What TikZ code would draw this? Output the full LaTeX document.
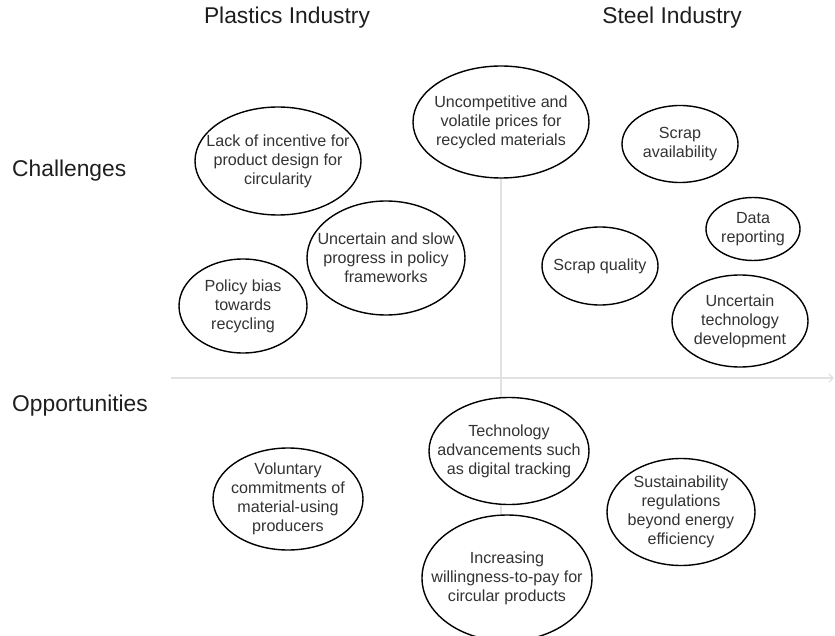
\documentclass[tikz,border=0pt]{standalone}
\usepackage{fontspec}
\setmainfont{Liberation Sans}
\usepackage{xcolor}
\usepackage{tikz}
\usetikzlibrary{arrows.meta, positioning, shapes.geometric, backgrounds}
\definecolor{inktext}{RGB}{51,51,51}
\definecolor{heading}{RGB}{30,30,30}
\definecolor{gridgray}{RGB}{225,225,225}
\definecolor{border}{RGB}{0,0,0}
\tikzset{
    idea/.style={
        ellipse,
        draw=border,
        line width=1.4pt,
        fill=white,
        inner sep=0pt
    },
    ideatext/.style={
        text=inktext,
        align=center,
        inner sep=0pt,
        font=\fontsize{16.1}{19}\selectfont
    },
    axisline/.style={draw=gridgray, line width=1.2pt},
    axisarrow/.style={axisline, -{Straight Barb[length=1.6mm, width=3mm]}}
}

\begin{document}
\begin{tikzpicture}[
    x=1pt, y=-1pt,
    colhead/.style={
        text=heading,
        inner sep=0pt,
        font=\fontsize{22.8}{26}\selectfont
    },
    rowhead/.style={colhead, anchor=west}
]
\useasboundingbox (0,0) rectangle (835,636);

\node[colhead] (plastics) at (287,18) {Plastics Industry};
\node[colhead] (steel) at (672,18) {Steel Industry};
\node[rowhead] (challenges) at (12,171) {Challenges};
\node[rowhead] (opportunities) at (12,406) {Opportunities};

\node[idea, minimum width=166pt, minimum height=108pt,
    label={[ideatext]center:Lack of incentive for\\product design for\\circularity}] (lackincentive) at (278,161) {};
\node[idea, minimum width=176pt, minimum height=112pt,
    label={[ideatext]center:Uncompetitive and\\volatile prices for\\recycled materials}] (prices) at (501,122) {};
\node[idea, minimum width=116pt, minimum height=77pt,
    label={[ideatext]center:Scrap\\availability}] (scrapavail) at (680,144) {};
\node[idea, minimum width=94pt, minimum height=63pt,
    label={[ideatext]center:Data\\reporting}] (datarep) at (753,229) {};
\node[idea, minimum width=116pt, minimum height=78pt,
    label={[ideatext]center:Scrap quality}] (scrapqual) at (600,266) {};
\node[idea, minimum width=158pt, minimum height=114pt,
    label={[ideatext]center:Uncertain and slow\\progress in policy\\frameworks}] (policyprog) at (386,258) {};
\node[idea, minimum width=128pt, minimum height=94pt,
    label={[ideatext]center:Policy bias\\towards\\recycling}] (policybias) at (243,306) {};
\node[idea, minimum width=136pt, minimum height=92pt,
    label={[ideatext]center:Uncertain\\technology\\development}] (techdev) at (740,321) {};

\node[idea, minimum width=150pt, minimum height=102pt,
    label={[ideatext]center:Voluntary\\commitments of\\material-using\\producers}] (voluntary) at (288,499) {};
\node[idea, minimum width=160pt, minimum height=107pt,
    label={[ideatext]center:Technology\\advancements such\\as digital tracking}] (techadv) at (509,451) {};
\node[idea, minimum width=148pt, minimum height=107pt,
    label={[ideatext]center:Sustainability\\regulations\\beyond energy\\efficiency}] (sustreg) at (681,512) {};
\node[idea, minimum width=170pt, minimum height=126pt,
    label={[ideatext]center:Increasing\\willingness-to-pay for\\circular products}] (willingness) at (507,578) {};

\coordinate (axisstart) at (171,378);
\coordinate (axisend) at (834,378);

\begin{scope}[on background layer]
\draw[axisarrow] (axisstart) -- (axisend);
\draw[axisline] (prices.south) -- (prices.south |- willingness.north);
\end{scope}

\end{tikzpicture}
\end{document}
